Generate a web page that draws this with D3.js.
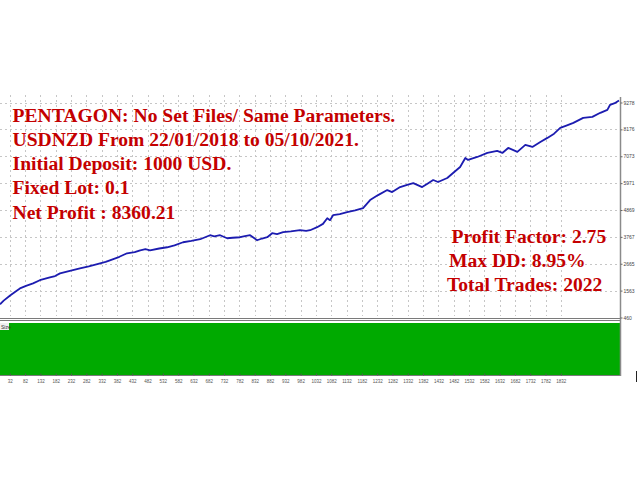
<!DOCTYPE html>
<html>
<head>
<meta charset="utf-8">
<script src="https://cdn.jsdelivr.net/npm/d3@7"></script>
<style>
  html, body { margin: 0; padding: 0; background: #fff; }
  svg { display: block; }
</style>
</head>
<body>
<svg id="chart" width="640" height="480"></svg>
<script>
// Balance curve: trade number and account balance after that trade
const trades = [0, 12, 33, 50, 65, 85, 108, 130, 163, 180, 196, 225, 261, 290, 327, 345, 359, 390, 415, 440, 458, 475, 490, 520, 546, 570, 598, 625, 654, 686, 700, 719, 742, 760, 784, 800, 817, 840, 856, 873, 889, 905, 925, 950, 980, 1000, 1013, 1036, 1055, 1069, 1078, 1088, 1110, 1134, 1160, 1186, 1209, 1235, 1265, 1281, 1307, 1330, 1350, 1379, 1395, 1415, 1431, 1461, 1480, 1503, 1520, 1529, 1559, 1592, 1624, 1641, 1660, 1690, 1716, 1739, 1765, 1788, 1810, 1830, 1850, 1873, 1905, 1935, 1961, 1984, 1993, 2008, 2022];
const balance = [1000, 1150, 1365, 1520, 1653, 1760, 1859, 1990, 2106, 2160, 2271, 2360, 2476, 2560, 2682, 2740, 2806, 2950, 3094, 3140, 3217, 3260, 3217, 3290, 3341, 3420, 3546, 3600, 3670, 3834, 3790, 3834, 3711, 3730, 3752, 3800, 3834, 3629, 3700, 3752, 3917, 3880, 3958, 3990, 4040, 4010, 4040, 4164, 4300, 4534, 4452, 4657, 4700, 4781, 4850, 4945, 5275, 5480, 5686, 5604, 5810, 5900, 5974, 5810, 5933, 6098, 6016, 6180, 6386, 6633, 7003, 6921, 7044, 7209, 7291, 7209, 7414, 7250, 7538, 7456, 7661, 7826, 8000, 8237, 8330, 8443, 8649, 8690, 8855, 8978, 9184, 9250, 9360.21];

// Price-scale labels on the right edge
const yTicks = [460, 1563, 2665, 3767, 4869, 5971, 7073, 8176, 9278];
// Trade-number labels along the bottom
const xTicks = [32, 82, 132, 182, 232, 282, 332, 382, 432, 482, 532, 582, 632, 682, 732, 782, 832, 882, 932, 982, 1032, 1082, 1132, 1182, 1232, 1282, 1332, 1382, 1432, 1482, 1532, 1582, 1632, 1682, 1732, 1782, 1832];

const leftNotes = [
  "PENTAGON: No Set Files/ Same Parameters.",
  "USDNZD From 22/01/2018 to 05/10/2021.",
  "Initial Deposit: 1000 USD.",
  "Fixed Lot: 0.1",
  "Net Profit : 8360.21"
];
const rightNotes = [
  "Profit Factor: 2.75",
  "Max DD: 8.95%",
  "Total Trades: 2022"
];

const svg = d3.select("#chart");
const plotRight = 620;

const x = d3.scaleLinear().domain([0, 2022]).range([0, plotRight - 1]);
const y = d3.scaleLinear().domain([460, 9278]).range([317.5, 102.5]);

// dotted grid
const grid = svg.append("g")
  .attr("stroke", "#c6c6c6")
  .attr("stroke-width", 1)
  .attr("stroke-dasharray", "2,3");
grid.selectAll("line.h").data(yTicks.slice(1)).join("line")
  .attr("class", "h")
  .attr("x1", 0).attr("x2", plotRight)
  .attr("y1", d => Math.round(y(d)) + 0.5).attr("y2", d => Math.round(y(d)) + 0.5);
grid.selectAll("line.v").data(xTicks).join("line")
  .attr("class", "v")
  .attr("x1", d => Math.round(x(d)) + 0.5).attr("x2", d => Math.round(x(d)) + 0.5)
  .attr("y1", 95).attr("y2", 316);

// balance line
const line = d3.line()
  .x((d, i) => x(trades[i]))
  .y(d => y(d));
svg.append("path")
  .datum(balance)
  .attr("fill", "none")
  .attr("stroke", "#1c1cb0")
  .attr("stroke-width", 1.8)
  .attr("stroke-linejoin", "round")
  .attr("d", line);

// sub-window separator
svg.append("line").attr("x1", 0).attr("x2", plotRight).attr("y1", 318.5).attr("y2", 318.5)
  .attr("stroke", "#7a7a7a").attr("stroke-width", 1);
svg.append("line").attr("x1", 0).attr("x2", plotRight).attr("y1", 320.5).attr("y2", 320.5)
  .attr("stroke", "#7a7a7a").attr("stroke-width", 1);

// lot size panel
svg.append("rect")
  .attr("x", 0).attr("y", 323).attr("width", plotRight).attr("height", 52)
  .attr("fill", "#00aa00");
svg.append("rect")
  .attr("x", 0).attr("y", 323).attr("width", 9).attr("height", 7)
  .attr("fill", "#f0f0f0");
svg.append("text")
  .attr("x", 1).attr("y", 329)
  .attr("font-family", "Arial, sans-serif").attr("font-size", 5)
  .attr("fill", "#333").text("Size");

// bottom axis
const xAxis = d3.axisBottom(x).tickValues(xTicks).tickSize(2).tickFormat(d3.format("d"));
const gx = svg.append("g").attr("transform", "translate(0,375.5)").call(xAxis);
gx.select(".domain").attr("stroke", "#7a7a7a").attr("stroke-width", 1.2).attr("d", `M0,0H${plotRight}`);
gx.selectAll(".tick line").attr("stroke", "#555").attr("y2", -2);
gx.selectAll(".tick text")
  .attr("y", 4).attr("dy", "0.71em")
  .attr("font-family", "Arial, sans-serif").attr("font-size", 4.5)
  .attr("fill", "#555");

// right price scale
svg.append("line")
  .attr("x1", plotRight + 0.5).attr("x2", plotRight + 0.5)
  .attr("y1", 97).attr("y2", 376)
  .attr("stroke", "#8a8a8a").attr("stroke-width", 1.5);
const yAxis = d3.axisRight(y).tickValues(yTicks).tickSize(2).tickFormat(d3.format("d"));
const gy = svg.append("g").attr("transform", `translate(${plotRight + 0.5},0)`).call(yAxis);
gy.select(".domain").remove();
gy.selectAll(".tick line").attr("stroke", "#666");
gy.selectAll(".tick text")
  .attr("x", 3)
  .attr("font-family", "Arial, sans-serif").attr("font-size", 5)
  .attr("fill", "#444");

// stray marker at the right edge
svg.append("line")
  .attr("x1", 636.5).attr("x2", 636.5).attr("y1", 371).attr("y2", 382)
  .attr("stroke", "#222").attr("stroke-width", 1);

// notes
const noteStyle = sel => sel
  .attr("font-family", "'Liberation Serif', 'Times New Roman', serif")
  .attr("font-weight", "bold")
  .attr("font-size", 19.6)
  .attr("fill", "#c40000");

svg.append("g").selectAll("text").data(leftNotes).join("text")
  .attr("x", 12.5)
  .attr("y", (d, i) => 121.7 + i * 24.2)
  .text(d => d)
  .call(noteStyle);

const rightX = [451.5, 449, 447];
svg.append("g").selectAll("text").data(rightNotes).join("text")
  .attr("x", (d, i) => rightX[i])
  .attr("y", (d, i) => 243 + i * 24)
  .text(d => d)
  .call(noteStyle);
</script>
</body>
</html>
